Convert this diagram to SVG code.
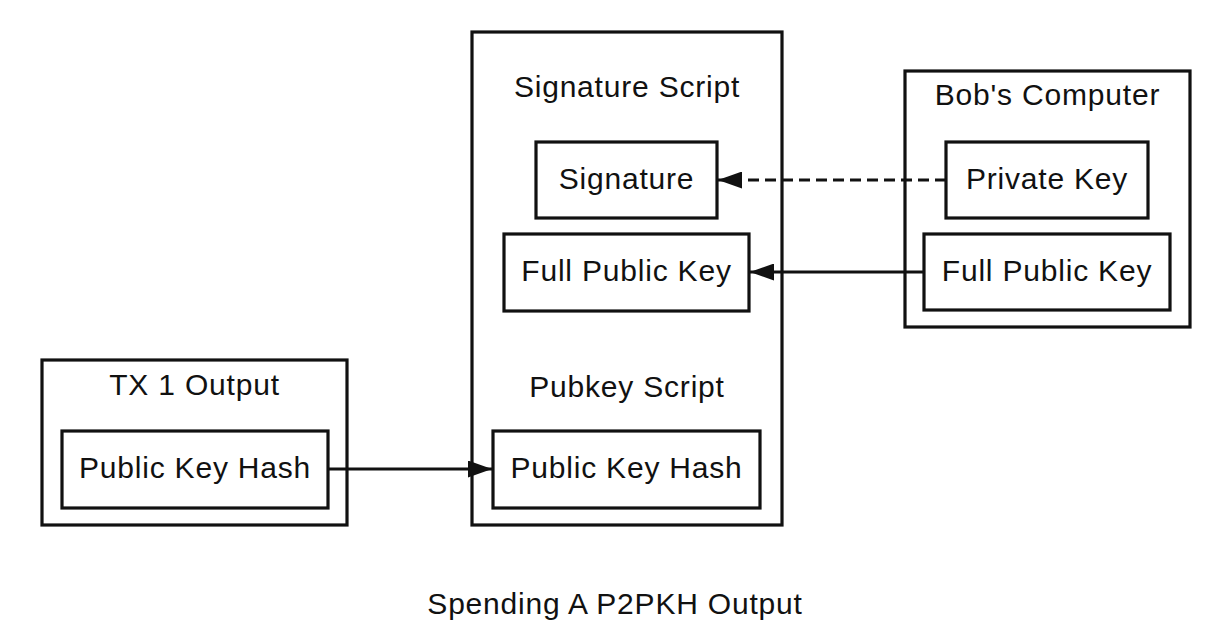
<svg xmlns="http://www.w3.org/2000/svg" width="1228" height="638" viewBox="0 0 1228 638">
  <style>
    .box { fill: #fff; stroke: #111; stroke-width: 3.2; }
    .lbl { font-family: "Liberation Sans", Arial, sans-serif; font-size: 30px; letter-spacing: 0.8px; fill: #111; text-anchor: middle; }
    .edge { stroke: #111; stroke-width: 3.2; fill: none; }
    .dash { stroke-dasharray: 11 6; }
  </style>
  <defs>
    <marker id="arrow" viewBox="0 0 24 17" refX="24" refY="8.5" markerWidth="24" markerHeight="17" markerUnits="userSpaceOnUse" orient="auto">
      <path d="M0,0 L24,8.5 L0,17 z" fill="#111"/>
    </marker>
  </defs>
  <rect width="1228" height="638" fill="#fff"/>

  <!-- spending transaction input -->
  <g id="input">
    <rect class="box" x="472" y="32" width="310" height="493"/>
    <text class="lbl" x="627" y="97">Signature Script</text>
    <text class="lbl" x="627" y="397">Pubkey Script</text>
  </g>
  <g id="signature">
    <rect class="box" x="536" y="142" width="181" height="76"/>
    <text class="lbl" x="626.5" y="189">Signature</text>
  </g>
  <g id="full-pubkey-script">
    <rect class="box" x="504" y="234" width="245" height="77"/>
    <text class="lbl" x="626.5" y="281">Full Public Key</text>
  </g>
  <g id="pkh-script">
    <rect class="box" x="493" y="431" width="267" height="77"/>
    <text class="lbl" x="626.5" y="478">Public Key Hash</text>
  </g>

  <!-- Bob's computer -->
  <g id="bob">
    <rect class="box" x="905" y="71" width="285" height="256"/>
    <text class="lbl" x="1047.5" y="105">Bob's Computer</text>
  </g>
  <g id="private-key">
    <rect class="box" x="946" y="142" width="202" height="76"/>
    <text class="lbl" x="1047" y="189">Private Key</text>
  </g>
  <g id="full-pubkey-bob">
    <rect class="box" x="924" y="234" width="246" height="76"/>
    <text class="lbl" x="1047" y="281">Full Public Key</text>
  </g>

  <!-- previous output -->
  <g id="tx1">
    <rect class="box" x="42" y="360" width="305" height="165"/>
    <text class="lbl" x="194.5" y="395">TX 1 Output</text>
  </g>
  <g id="pkh-tx1">
    <rect class="box" x="62" y="431" width="266" height="77"/>
    <text class="lbl" x="195" y="478">Public Key Hash</text>
  </g>

  <g id="connectors">
    <line class="edge dash" x1="946" y1="180" x2="718" y2="180" marker-end="url(#arrow)"/>
    <line class="edge" x1="924" y1="272" x2="750" y2="272" marker-end="url(#arrow)"/>
    <line class="edge" x1="328" y1="469" x2="492" y2="469" marker-end="url(#arrow)"/>
  </g>

  <text class="lbl" x="615" y="614">Spending A P2PKH Output</text>
</svg>
